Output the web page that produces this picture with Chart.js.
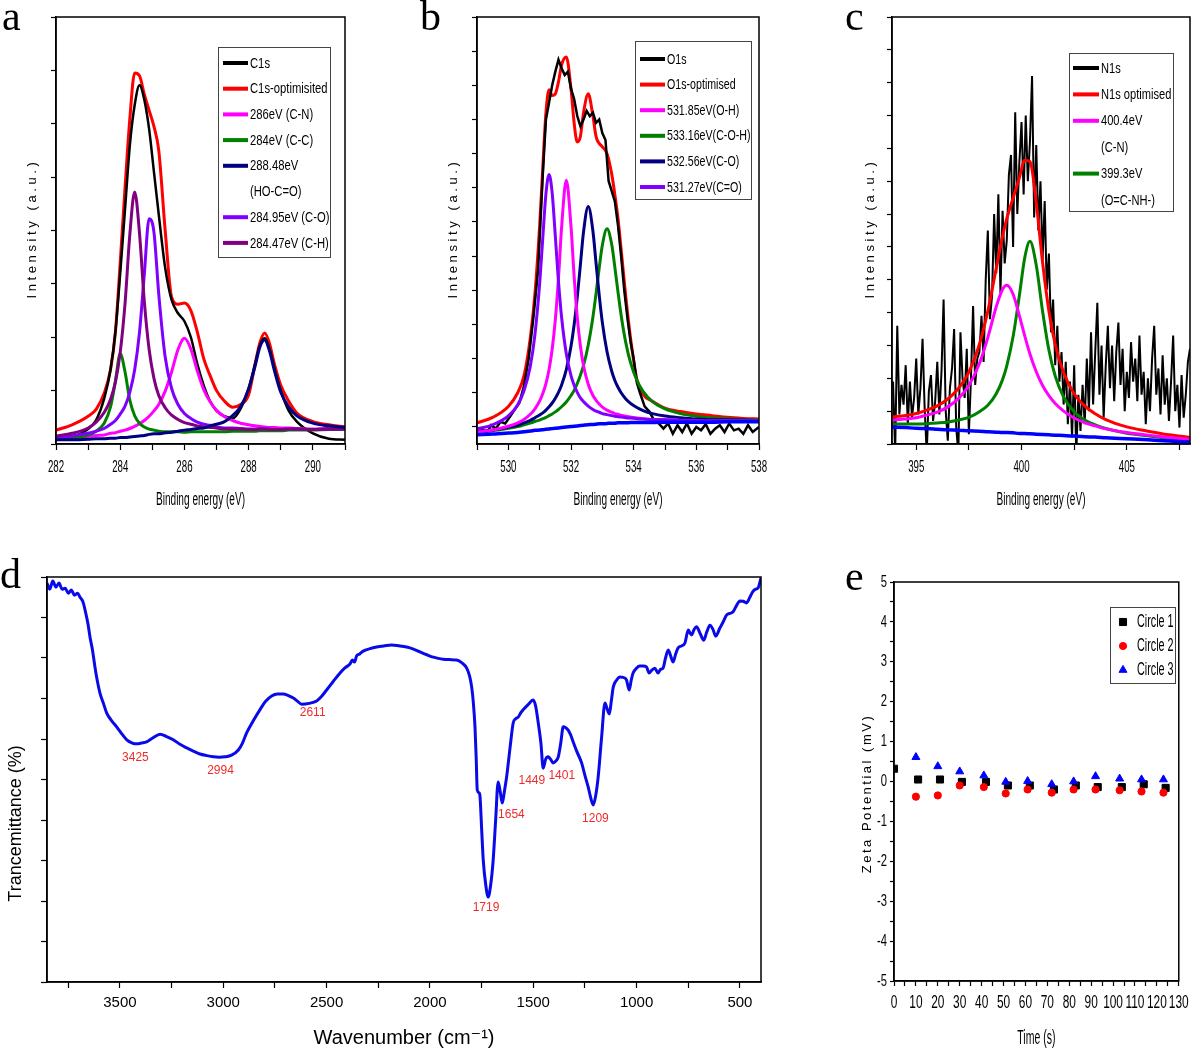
<!DOCTYPE html>
<html>
<head>
<meta charset="utf-8">
<title>XPS, FTIR and zeta potential</title>
<script src="https://cdn.jsdelivr.net/npm/chart.js@4.4.1/dist/chart.umd.min.js"></script>
<style>
  html, body { margin: 0; padding: 0; background: #fff; }
  #page { position: relative; width: 1200px; height: 1051px; overflow: hidden; background: #fff; }
  .pane { position: absolute; }
  .pane canvas { display: block; }
  .tag { position: absolute; font-family: 'Liberation Serif', 'DejaVu Serif', serif; font-size: 42px; line-height: 42px; color: #000; }
</style>
</head>
<body>
<div id="page">
  <div class="pane" style="left:0;top:0"><canvas id="chartA" width="360" height="520"></canvas></div>
  <div class="pane" style="left:420px;top:0"><canvas id="chartB" width="360" height="520"></canvas></div>
  <div class="pane" style="left:840px;top:0"><canvas id="chartC" width="360" height="520"></canvas></div>
  <div class="pane" style="left:0;top:540px"><canvas id="chartD" width="800" height="511"></canvas></div>
  <div class="pane" style="left:840px;top:540px"><canvas id="chartE" width="360" height="511"></canvas></div>
  <div class="tag" style="left:2px;top:-5px">a</div>
  <div class="tag" style="left:420px;top:-5px">b</div>
  <div class="tag" style="left:845px;top:-5px">c</div>
  <div class="tag" style="left:0;top:553px">d</div>
  <div class="tag" style="left:845px;top:555px">e</div>
</div>
<script>
// ================= DATA =================
// ---- a: C1s (binding energy, eV) ----
const aEnergy = [282,282.5,283,283.25,283.5,283.7,283.85,284,284.15,284.3,
  284.45,284.6,284.75,284.9,285.05,285.2,285.4,285.6,285.8,286,
  286.2,286.4,286.6,286.8,287,287.25,287.5,287.75,288,288.2,
  288.35,288.5,288.65,288.8,289,289.25,289.5,290,290.5,291];
const aC1s = [.12,.14,.28,.45,.85,1.4,2.1,3.2,4.4,5.6,
  6.35,6.72,6.45,5.9,5.1,4.3,3.3,2.7,2.45,2.3,
  2.0,1.5,1.1,.8,.62,.52,.48,.66,1.05,1.5,
  1.85,1.98,1.78,1.42,1.0,.62,.42,.2,.1,.08];
const aC1sFit = [.26,.36,.52,.65,.95,1.4,2.1,3.4,4.8,6.1,
  6.95,6.9,6.55,6.25,5.95,5.5,4.0,2.75,2.62,2.64,
  2.5,2.1,1.6,1.28,1.0,.8,.69,.74,.92,1.5,
  1.9,2.08,1.88,1.5,1.1,.8,.58,.42,.36,.32];
const aCN = [.10,.11,.14,.16,.17,.20,.21,.24,.26,.29,
  .33,.38,.44,.52,.62,.74,.99,1.35,1.77,1.98,
  1.78,1.37,1.02,.79,.63,.51,.44,.39,.36,.34,
  .33,.32,.31,.31,.30,.30,.29,.28,.29,.28];
const aCC = [.09,.11,.17,.24,.39,.70,1.18,1.69,1.35,.82,
  .53,.39,.32,.28,.26,.24,.23,.23,.23,.22,
  .23,.23,.23,.23,.23,.23,.24,.24,.24,.24,
  .25,.25,.25,.25,.25,.26,.26,.26,.27,.27];
const aHOCO = [.08,.08,.09,.10,.10,.11,.11,.12,.12,.13,
  .14,.15,.16,.18,.19,.19,.21,.22,.24,.26,
  .27,.29,.30,.34,.37,.42,.53,.70,1.03,1.46,
  1.82,1.95,1.74,1.38,.97,.69,.53,.39,.34,.31];
const aCO = [.12,.15,.20,.24,.29,.37,.44,.56,.71,.97,
  1.39,2.09,3.18,4.22,3.97,2.81,1.63,1.04,.74,.57,
  .48,.41,.37,.35,.32,.30,.30,.29,.28,.28,
  .28,.28,.28,.27,.27,.28,.28,.27,.28,.28];
const aCH = [.15,.20,.30,.41,.59,.84,1.16,1.72,2.63,3.93,
  4.72,3.95,2.67,1.77,1.23,.91,.68,.54,.46,.40,
  .37,.34,.32,.31,.30,.28,.28,.28,.27,.27,
  .28,.28,.27,.27,.27,.28,.28,.27,.28,.28];
const aXMajor = [282, 284, 286, 288, 290];
const aXMinor = [283, 285, 287, 289, 291];
const aYTicks = [0, 1, 2, 3, 4, 5, 6, 7, 8];

// ---- b: O1s ----
const bEnergy = [529,529.5,530,530.3,530.5,530.7,530.85,531,531.1,531.2,
  531.3,531.4,531.5,531.6,531.7,531.85,532,532.1,532.2,532.3,
  532.4,532.55,532.7,532.8,532.9,533,533.15,533.3,533.4,533.5,
  533.6,533.75,533.9,534.1,534.3,534.6,535,535.5,536,536.5,
  537,537.5,538];
const bO1sFit = [.12,.28,.6,1.0,1.5,2.6,3.9,5.9,7.6,9.2,
  9.87,9.7,9.75,10.1,10.6,10.83,9.9,8.9,8.34,8.5,
  9.2,9.75,9.1,8.5,8.3,8.2,8.0,7.4,6.8,6.1,
  5.2,3.8,2.6,1.4,.95,.75,.55,.45,.38,.33,
  .28,.25,.23];
const bOH = [-.15,-.09,.02,.12,.22,.37,.53,.76,.98,1.27,
  1.68,2.28,3.14,4.35,5.84,7.22,5.87,4.40,3.21,2.37,
  1.79,1.25,.92,.78,.67,.58,.49,.43,.39,.37,
  .34,.31,.29,.26,.24,.22,.21,.19,.18,.17,
  .18,.17,.17];
const bCOH = [-.15,-.11,-.04,.01,.06,.11,.16,.20,.24,.28,
  .33,.38,.44,.51,.59,.73,.92,1.07,1.27,1.51,
  1.80,2.40,3.22,3.91,4.65,5.32,5.80,5.34,4.67,3.95,
  3.27,2.46,1.88,1.37,1.04,.74,.53,.39,.31,.26,
  .24,.22,.21];
const bCO = [-.14,-.09,-.01,.05,.12,.19,.27,.35,.41,.49,
  .59,.70,.84,1.01,1.23,1.68,2.36,2.99,3.80,4.75,
  5.71,6.45,5.73,4.79,3.86,3.06,2.2,1.63,1.36,1.16,
  1.0,.82,.69,.57,.48,.39,.32,.27,.23,.21,
  .21,.20,.19];
const bCeqO = [-.06,.06,.32,.65,1.06,1.77,2.71,4.2,5.54,6.82,
  7.39,6.84,5.58,4.26,3.21,2.14,1.5,1.22,1.01,.85,
  .74,.61,.51,.46,.43,.39,.36,.33,.31,.30,
  .29,.27,.26,.24,.23,.21,.21,.19,.18,.17,
  .18,.17,.17];
const bBackground = [-.23,-.21,-.18,-.16,-.14,-.12,-.10,-.09,-.08,-.07,
  -.06,-.05,-.04,-.03,-.02,-.005,.01,.02,.03,.04,
  .05,.065,.07,.08,.09,.09,.10,.11,.11,.12,
  .12,.12,.13,.13,.13,.13,.14,.14,.14,.14,
  .15,.15,.15];
const bRawEnergy = [529,529.15,529.3,529.45,529.6,529.75,529.9,530.05,530.2,530.35,
  530.5,530.65,530.8,530.95,531.1,531.2,531.3,531.4,531.5,531.6,
  531.7,531.8,531.9,532,532.1,532.2,532.3,532.4,532.5,532.6,
  532.7,532.8,532.9,533,533.1,533.2,533.3,533.4,533.5,533.6,
  533.7,533.8,533.9,534,534.1,534.2,534.35,534.5,534.65,534.8,
  534.95,535.1,535.25,535.4,535.55,535.7,535.85,536,536.15,536.3,
  536.45,536.6,536.75,536.9,537.05,537.2,537.35,537.5,537.65,537.8,
  538];
const bO1s = [-.15,-.05,-.2,.05,-.05,.15,.1,.3,.5,.7,
  1.2,2.0,3.2,4.6,7.4,9.0,9.5,10.0,10.4,10.75,
  10.5,10.3,10.4,9.9,9.6,9.1,8.8,9.0,9.25,9.1,
  9.2,8.9,9.0,8.6,8.4,7.2,6.9,6.6,5.9,5.0,
  4.0,3.2,2.5,2.0,1.3,1.0,.6,.45,.2,.1,
  -.05,.1,-.2,.05,-.15,.1,-.2,0,-.1,.08,
  -.2,-.05,.05,-.15,.1,-.1,-.05,-.2,.05,-.15,
  0];
const bXMajor = [530, 532, 534, 536, 538];
const bXMinor = [529, 531, 533, 535, 537];
const bYTicks = [0,1,2,3,4,5,6,7,8,9,10,11,12];

// ---- c: N1s ----
const cEnergy = [393.85,394.5,395,395.5,396,396.5,397,397.5,398,398.4,
  398.8,399.1,399.3,399.6,399.9,400.15,400.4,400.7,401,401.3,
  401.6,402,402.5,403,403.5,404,405,406,407,408];
const cN1sFit = [.82,.87,.93,1.03,1.16,1.37,1.69,2.19,3.04,4.05,
  5.35,6.32,6.86,7.49,8.11,8.64,8.60,7.34,5.53,4.05,
  3.03,2.17,1.53,1.16,.92,.74,.52,.39,.28,.20];
const cCN = [.73,.76,.80,.88,.97,1.13,1.38,1.78,2.45,3.24,
  4.18,4.71,4.83,4.56,3.90,3.30,2.74,2.20,1.78,1.47,
  1.23,1.0,.79,.65,.55,.46,.35,.27,.20,.14];
const cOCNH = [.61,.61,.61,.62,.64,.67,.73,.81,.98,1.18,
  1.53,1.96,2.38,3.27,4.53,5.66,6.17,5.44,4.04,2.86,
  2.07,1.43,.98,.73,.58,.47,.33,.25,.17,.12];
const cBackground = [.52,.50,.48,.47,.45,.43,.42,.40,.39,.37,
  .36,.35,.35,.34,.32,.32,.31,.30,.29,.28,
  .27,.26,.24,.22,.21,.19,.16,.13,.09,.06];
const cRawEnergy = [393.9,394,394.1,394.2,394.3,394.4,394.5,394.6,394.7,394.8,
  394.9,395,395.1,395.2,395.3,395.4,395.5,395.6,395.7,395.8,
  395.9,396,396.1,396.2,396.3,396.4,396.5,396.6,396.7,396.8,
  396.9,397,397.1,397.2,397.3,397.4,397.5,397.6,397.7,397.8,
  397.9,398,398.1,398.2,398.3,398.4,398.5,398.6,398.7,398.8,
  398.9,399,399.1,399.2,399.3,399.4,399.5,399.6,399.7,399.8,
  399.9,400,400.1,400.2,400.3,400.4,400.5,400.6,400.7,400.8,
  400.9,401,401.1,401.2,401.3,401.4,401.5,401.6,401.7,401.8,
  401.9,402,402.1,402.2,402.3,402.4,402.5,402.6,402.7,402.8,
  402.9,403,403.1,403.2,403.3,403.4,403.5,403.6,403.7,403.8,
  403.9,404,404.1,404.2,404.3,404.4,404.5,404.6,404.7,404.8,
  404.9,405,405.1,405.2,405.3,405.4,405.5,405.6,405.7,405.8,
  405.9,406,406.1,406.2,406.3,406.4,406.5,406.6,406.7,406.8,
  406.9,407,407.1,407.2,407.3,407.4,407.5,407.6,407.7,407.8,
  407.9,408];
const cN1s = [1.9,-0.3,3.6,0.9,1.8,1.2,2.4,0.6,1.9,0.8,
  1.4,2.6,0.9,1.7,3.2,1.1,-0.3,1.6,2.1,0.7,
  1.3,2.5,0.9,2.2,4.4,1.0,0.1,1.7,2.3,3.5,
  0.5,-0.3,3.4,2.0,1.4,2.9,0.3,2.0,4.2,1.8,
  2.6,2.8,3.9,2.5,5.0,6.5,3.8,4.5,7.0,5.2,
  7.6,4.6,7.1,5.5,6.2,8.2,8.8,6.0,10.1,7.0,
  8.6,9.8,7.6,10.0,8.0,9.2,11.2,6.9,9.1,6.5,
  8.0,5.6,7.4,4.7,5.8,3.4,4.4,2.4,3.6,1.9,
  2.8,1.2,2.5,0.6,1.9,0.2,2.4,-0.3,1.5,0.4,
  1.8,0.6,2.6,1.0,3.4,1.2,2.8,4.3,1.5,3.0,
  0.8,2.4,3.6,1.7,3.0,1.3,2.8,3.7,1.8,2.9,
  1.0,2.2,1.4,3.1,1.9,2.6,1.3,3.3,1.5,2.2,
  0.6,2.0,1.0,2.6,3.6,1.5,2.3,0.9,2.7,1.2,
  2.0,0.7,1.9,3.3,1.0,1.8,0.5,2.1,0.8,1.5,
  2.5,2.9];
const cXMajor = [395, 400, 405];
const cXMinor = [397.5, 402.5, 407.5];
const cYTicks = [0,1,2,3,4,5,6,7,8,9,10,11,12,13];

// ---- d: FTIR ----
const dWavenumber = [3853,3840,3825,3810,3795,3780,3765,3750,3735,3720,
  3705,3693,3680,3669,3655,3645,3633,3621,3610,3597,
  3580,3564,3540,3516,3490,3467,3440,3419,3395,3371,
  3340,3306,3275,3242,3210,3177,3145,3113,3080,3048,
  3020,2992,2960,2927,2907,2887,2855,2823,2795,2766,
  2738,2710,2685,2661,2640,2621,2585,2548,2525,2500,
  2468,2435,2410,2387,2375,2365,2355,2340,2323,2290,
  2258,2220,2186,2150,2113,2080,2048,2015,1984,1960,
  1936,1905,1871,1845,1822,1808,1798,1790,1782,1776,
  1771,1762,1758,1750,1742,1730,1718,1706,1694,1682,
  1670,1660,1650,1640,1629,1612,1597,1585,1573,1560,
  1549,1525,1500,1488,1476,1463,1452,1440,1428,1416,
  1404,1392,1379,1367,1355,1343,1331,1319,1307,1290,
  1266,1250,1234,1222,1210,1198,1186,1170,1153,1143,
  1132,1122,1113,1097,1081,1065,1049,1036,1026,1017,
  1000,985,968,952,940,926,912,896,884,872,
  860,847,835,823,811,799,782,766,750,742,
  734,722,710,692,675,660,645,630,617,597,
  580,565,549,533,516,500,484,468,452,436,
  424,412,398];
const dTransmittance = [9.85,9.7,9.9,9.75,9.85,9.7,9.72,9.6,9.68,9.55,
  9.6,9.5,9.4,9.19,8.85,8.52,8.2,7.78,7.45,7.14,
  6.88,6.64,6.45,6.30,6.12,5.98,5.9,5.88,5.9,5.93,
  6.03,6.12,6.06,5.98,5.87,5.78,5.7,5.63,5.59,5.56,
  5.55,5.56,5.6,5.73,5.9,6.15,6.45,6.72,6.93,7.06,
  7.11,7.11,7.07,7.01,6.93,6.86,6.88,6.94,7.05,7.21,
  7.42,7.63,7.76,7.85,7.95,7.9,8.05,8.1,8.17,8.23,
  8.27,8.3,8.32,8.3,8.27,8.22,8.15,8.08,8.02,7.99,
  7.97,7.96,7.95,7.88,7.75,7.55,7.28,6.9,6.30,5.5,
  4.74,4.67,4.6,3.8,3.01,2.4,2.10,2.4,3.01,4.0,
  4.94,4.7,4.42,4.7,5.06,5.8,6.40,6.5,6.54,6.65,
  6.72,6.85,6.96,6.8,6.40,5.9,5.28,5.5,5.56,5.5,
  5.41,5.45,5.56,5.9,6.30,6.28,6.22,6.1,5.93,5.7,
  5.41,5.1,4.81,4.55,4.37,4.6,5.06,6.0,6.89,6.75,
  6.62,6.95,7.28,7.45,7.53,7.52,7.46,7.21,7.45,7.63,
  7.75,7.80,7.8,7.78,7.63,7.7,7.75,7.63,7.72,7.75,
  8.0,8.20,8.05,7.90,8.1,8.25,8.3,8.37,8.69,8.62,
  8.57,8.7,8.77,8.6,8.44,8.65,8.81,8.7,8.54,8.74,
  8.9,9.06,9.1,9.14,9.3,9.41,9.4,9.36,9.5,9.65,
  9.7,9.73,9.98];
const dPeakWavenumber = [3425, 2994, 2611, 1719, 1654, 1449, 1401, 1209];
const dPeakTransmittance = [5.88, 5.56, 6.86, 2.10, 4.42, 5.28, 5.41, 4.37];
const dXMajor = [3500, 3000, 2500, 2000, 1500, 1000, 500];
const dXMinor = [3750, 3250, 2750, 2250, 1750, 1250, 750];
const dYTicks = [0,1,2,3,4,5,6,7,8,9,10];

// ---- e: zeta potential ----
const eTime1 = [0, 11, 21, 31, 42, 52, 62, 73, 83, 93, 104, 114, 124];
const eCircle1 = [0.32, 0.05, 0.05, -0.01, -0.01, -0.10, -0.10, -0.20, -0.10, -0.14, -0.14, -0.07, -0.16];
const eTime23 = [10, 20, 30, 41, 51, 61, 72, 82, 92, 103, 113, 123];
const eCircle2 = [-0.38, -0.35, -0.10, -0.14, -0.30, -0.20, -0.28, -0.20, -0.20, -0.22, -0.25, -0.28];
const eCircle3 = [0.61, 0.38, 0.25, 0.15, -0.01, 0.01, -0.07, 0.0, 0.13, 0.07, 0.05, 0.05];
const eXMajor = [0,10,20,30,40,50,60,70,80,90,100,110,120,130];
const eXMinor = [5,15,25,35,45,55,65,75,85,95,105,115,125];
const eYMajor = [-5,-4,-3,-2,-1,0,1,2,3,4,5];
const eYMinor = [-4.5,-3.5,-2.5,-1.5,-0.5,0.5,1.5,2.5,3.5,4.5];

// ================= STYLE / HELPERS =================
const SANS = "'Liberation Sans', Arial, 'DejaVu Sans', sans-serif";
Chart.defaults.font.family = SANS;
Chart.defaults.color = '#000';

// draw text horizontally condensed (the figure uses a narrow face)
function withCompress(ctx, k, fn) {
  if (!k || k === 1) { fn(); return; }
  const proto = Object.getPrototypeOf(ctx);
  const orig = proto.fillText;
  ctx.fillText = function (text, x, y, maxWidth) {
    this.save();
    this.translate(x, y);
    this.scale(k, 1);
    if (maxWidth === undefined || maxWidth === null) orig.call(this, text, 0, 0);
    else orig.call(this, text, 0, 0, maxWidth / k);
    this.restore();
  };
  try { fn(); } finally { delete ctx.fillText; }
}

const BaseLinear = Chart.LinearScale || Chart.registry.getScale('linear');
class StyledLinearScale extends BaseLinear {
  drawTitle() {
    const t = this.options.title;
    const ctx = this.ctx;
    ctx.save();
    if (t.letterSpacing) ctx.letterSpacing = t.letterSpacing;
    if (t.shiftY) ctx.translate(0, t.shiftY);
    withCompress(ctx, t.compress, () => super.drawTitle());
    ctx.restore();
  }
  drawLabels(chartArea) {
    withCompress(this.ctx, this.options.ticks.compress, () => super.drawLabels(chartArea));
  }
}
StyledLinearScale.id = 'styledLinear';
StyledLinearScale.defaults = BaseLinear.defaults;

const framePlugin = {
  id: 'frame',
  afterDatasetsDraw(chart) {
    const { ctx, chartArea: a } = chart;
    ctx.save();
    ctx.strokeStyle = '#000';
    ctx.lineWidth = 1.5;
    ctx.strokeRect(a.left, a.top, a.right - a.left, a.bottom - a.top);
    ctx.restore();
  }
};

const boxLegendPlugin = {
  id: 'boxLegend',
  afterDraw(chart, args, o) {
    if (!o || !o.box) return;
    const ctx = chart.ctx;
    const b = o.box;
    const k = o.compress || 1;
    ctx.save();
    ctx.fillStyle = '#fff';
    ctx.fillRect(b[0], b[1], b[2], b[3]);
    ctx.strokeStyle = o.borderColor || '#444';
    ctx.lineWidth = 1;
    ctx.strokeRect(b[0] + 0.5, b[1] + 0.5, b[2], b[3]);
    ctx.font = o.font;
    ctx.textBaseline = 'middle';
    ctx.textAlign = 'left';
    let y = o.firstRow;
    chart.data.datasets.forEach(ds => {
      if (!ds.label) return;
      const lines = Array.isArray(ds.label) ? ds.label : [ds.label];
      if (o.marker) {
        ctx.fillStyle = ds.pointBackgroundColor;
        ctx.strokeStyle = ds.pointBorderColor;
        ctx.lineWidth = 1;
        Chart.helpers.drawPoint(ctx, { pointStyle: ds.pointStyle, radius: ds.pointRadius, rotation: 0, borderWidth: 1 }, o.markerX, y);
      } else {
        ctx.strokeStyle = ds.borderColor;
        ctx.lineWidth = o.sampleWidth;
        ctx.beginPath();
        ctx.moveTo(o.sampleX[0], y);
        ctx.lineTo(o.sampleX[1], y);
        ctx.stroke();
      }
      ctx.fillStyle = '#000';
      lines.forEach(t => {
        ctx.save();
        ctx.translate(o.textX, y + 0.5);
        ctx.scale(k, 1);
        ctx.fillText(t, 0, 0);
        ctx.restore();
        y += o.rowH;
      });
    });
    ctx.restore();
  }
};

Chart.register(StyledLinearScale, framePlugin, boxLegendPlugin);

const pts = (xs, ys) => xs.map((x, i) => ({ x: x, y: ys[i] }));

function lineDs(label, data, color, width, order, smooth) {
  return {
    label: label, data: data, borderColor: color, backgroundColor: color,
    borderWidth: width, pointRadius: 0, fill: false, order: order,
    cubicInterpolationMode: smooth ? 'monotone' : 'default', tension: 0
  };
}

function sortedTicks(major, minor) {
  return major.concat(minor).sort((p, q) => p - q).map(v => ({ value: v }));
}

function axisX(c) {
  return {
    type: 'styledLinear', position: 'bottom', min: c.min, max: c.max, reverse: !!c.reverse,
    afterBuildTicks: s => { s.ticks = sortedTicks(c.major, c.minor); },
    afterFit: s => { s.height = c.size; },
    grid: { drawOnChartArea: false, drawTicks: true, tickLength: c.tickLength, color: '#000', tickColor: '#000', tickWidth: 1.2 },
    border: { display: true, color: '#000', width: 1.5 },
    ticks: { autoSkip: false, maxRotation: 0, minRotation: 0, padding: c.pad, color: '#000', font: c.font,
      compress: c.compress, callback: v => (c.major.indexOf(v) >= 0 ? String(v) : '') },
    title: { display: true, text: c.title, color: '#000', font: c.titleFont, compress: c.titleCompress,
      padding: { top: 0, bottom: c.titlePad } }
  };
}

function axisY(c) {
  return {
    type: 'styledLinear', position: 'left', min: c.min, max: c.max,
    afterBuildTicks: s => { s.ticks = sortedTicks(c.major, c.minor || []); },
    afterFit: s => { s.width = c.size; },
    grid: { drawOnChartArea: false, drawTicks: true, tickLength: c.tickLength, color: '#000', tickColor: '#000', tickWidth: 1.2 },
    border: { display: true, color: '#000', width: 1.5 },
    ticks: { display: !!c.showLabels, autoSkip: false, padding: c.pad || 3, color: '#000', font: c.font,
      compress: c.compress, callback: v => (c.showLabels && c.major.indexOf(v) >= 0 ? String(v) : '') },
    title: { display: true, text: c.title, color: '#000', font: c.titleFont,
      padding: { top: c.titlePad, bottom: 0 }, letterSpacing: c.letterSpacing, shiftY: c.shiftY }
  };
}

function baseOptions(p) {
  return {
    responsive: false, animation: false, devicePixelRatio: 1, events: [],
    layout: { padding: p.padding },
    scales: { x: p.x, y: p.y },
    plugins: { legend: { display: false }, tooltip: { enabled: false }, boxLegend: p.legend || {} }
  };
}

const xpsTickFont = { family: SANS, size: 17 };
const xpsTitleFont = { family: SANS, size: 18 };
const intensityFont = { family: SANS, size: 13 };
const legendFont = "15px " + SANS;

// ================= a =================
new Chart(document.getElementById('chartA'), {
  type: 'line',
  data: { datasets: [
    lineDs('C1s', pts(aEnergy, aC1s), '#000000', 2.5, 6, true),
    lineDs('C1s-optimisited', pts(aEnergy, aC1sFit), '#ff0000', 3, 7, true),
    lineDs('286eV (C-N)', pts(aEnergy, aCN), '#ff00ff', 3, 5, true),
    lineDs('284eV (C-C)', pts(aEnergy, aCC), '#008000', 3, 4, true),
    lineDs(['288.48eV', '(HO-C=O)'], pts(aEnergy, aHOCO), '#000080', 3, 1, true),
    lineDs('284.95eV (C-O)', pts(aEnergy, aCO), '#8000ff', 3, 3, true),
    lineDs('284.47eV (C-H)', pts(aEnergy, aCH), '#800080', 3, 2, true)
  ]},
  options: baseOptions({
    padding: { top: 17, right: 15, bottom: 0, left: 0 },
    x: axisX({ min: 282, max: 291, major: aXMajor, minor: aXMinor, size: 76, tickLength: 6, pad: 6.8,
      font: xpsTickFont, compress: 0.57, title: 'Binding energy (eV)', titleFont: xpsTitleFont, titleCompress: 0.56, titlePad: 9.2 }),
    y: axisY({ min: 0, max: 8, major: aYTicks, size: 56, tickLength: 5, title: 'Intensity (a.u.)',
      titleFont: intensityFont, titlePad: 24.2, letterSpacing: '3.6px', shiftY: -2 }),
    legend: { box: [218, 47, 112, 210], firstRow: 63, rowH: 25.7, sampleX: [223, 248], textX: 250,
      sampleWidth: 4, font: legendFont, compress: 0.75, borderColor: '#444' }
  })
});

// ================= b =================
new Chart(document.getElementById('chartB'), {
  type: 'line',
  data: { datasets: [
    lineDs('O1s', pts(bRawEnergy, bO1s), '#000000', 2.5, 5, false),
    lineDs('O1s-optimised', pts(bEnergy, bO1sFit), '#ff0000', 3, 6, true),
    lineDs('531.85eV(O-H)', pts(bEnergy, bOH), '#ff00ff', 3, 2, true),
    lineDs('533.16eV(C-O-H)', pts(bEnergy, bCOH), '#008000', 3, 4, true),
    lineDs('532.56eV(C-O)', pts(bEnergy, bCO), '#000080', 3, 3, true),
    lineDs('531.27eV(C=O)', pts(bEnergy, bCeqO), '#8000ff', 3, 1, true),
    lineDs(undefined, pts(bEnergy, bBackground), '#0000ff', 3.5, 0, true)
  ]},
  options: baseOptions({
    padding: { top: 17, right: 21, bottom: 0, left: 0 },
    x: axisX({ min: 529, max: 538, major: bXMajor, minor: bXMinor, size: 76, tickLength: 6, pad: 6.8,
      font: xpsTickFont, compress: 0.57, title: 'Binding energy (eV)', titleFont: xpsTitleFont, titleCompress: 0.56, titlePad: 9.2 }),
    y: axisY({ min: -0.5, max: 12, major: bYTicks, size: 57, tickLength: 5, title: 'Intensity (a.u.)',
      titleFont: intensityFont, titlePad: 25.2, letterSpacing: '3.6px', shiftY: -2 }),
    legend: { box: [215, 41, 116, 158], firstRow: 59, rowH: 25.6, sampleX: [220, 245], textX: 247,
      sampleWidth: 4, font: legendFont, compress: 0.71, borderColor: '#444' }
  })
});

// ================= c =================
new Chart(document.getElementById('chartC'), {
  type: 'line',
  data: { datasets: [
    lineDs('N1s', pts(cRawEnergy, cN1s), '#000000', 2, 5, false),
    lineDs('N1s optimised', pts(cEnergy, cN1sFit), '#ff0000', 3, 4, true),
    lineDs(['400.4eV', '(C-N)'], pts(cEnergy, cCN), '#ff00ff', 3, 2, true),
    lineDs(['399.3eV', '(O=C-NH-)'], pts(cEnergy, cOCNH), '#008000', 3, 3, true),
    lineDs(undefined, pts(cEnergy, cBackground), '#0000ff', 3.5, 1, true)
  ]},
  options: baseOptions({
    padding: { top: 17, right: 10, bottom: 0, left: 0 },
    x: axisX({ min: 393.85, max: 408, major: cXMajor, minor: cXMinor, size: 76, tickLength: 6, pad: 6.8,
      font: xpsTickFont, compress: 0.57, title: 'Binding energy (eV)', titleFont: xpsTitleFont, titleCompress: 0.56, titlePad: 9.2 }),
    y: axisY({ min: 0, max: 13, major: cYTicks, size: 52, tickLength: 5, title: 'Intensity (a.u.)',
      titleFont: intensityFont, titlePad: 22.2, letterSpacing: '3.6px', shiftY: -2 }),
    legend: { box: [229, 53, 104, 158], firstRow: 68, rowH: 26.4, sampleX: [233, 259], textX: 261,
      sampleWidth: 4, font: legendFont, compress: 0.74, borderColor: '#444' }
  })
});

// ================= d =================
const dLabelOffsets = [[0, 14], [-4, 14], [9, 9], [-2, 11], [10, 12], [-12, 13], [8, 13], [2, 14]];
const peakLabelPlugin = {
  id: 'peakLabels',
  afterDatasetsDraw(chart) {
    const ctx = chart.ctx, xs = chart.scales.x, ys = chart.scales.y;
    ctx.save();
    ctx.font = "12px " + SANS;
    ctx.fillStyle = '#ee2b2b';
    ctx.textAlign = 'center';
    ctx.textBaseline = 'middle';
    dPeakWavenumber.forEach((w, i) => {
      const px = xs.getPixelForValue(w) + dLabelOffsets[i][0];
      const py = ys.getPixelForValue(dPeakTransmittance[i]) + dLabelOffsets[i][1];
      ctx.fillText(String(w), px, py);
    });
    ctx.restore();
  }
};
new Chart(document.getElementById('chartD'), {
  type: 'line',
  data: { datasets: [
    lineDs(undefined, pts(dWavenumber, dTransmittance), '#0a0ae8', 3, 0, true)
  ]},
  options: baseOptions({
    padding: { top: 37, right: 39, bottom: 0, left: 0 },
    x: axisX({ min: 398, max: 3853, reverse: true, major: dXMajor, minor: dXMinor, size: 69, tickLength: 6, pad: 6,
      font: { family: SANS, size: 15 }, title: 'Wavenumber (cm\u207B\u00B9)', titleFont: { family: SANS, size: 20 }, titlePad: 1 }),
    y: axisY({ min: 0, max: 10, major: dYTicks, size: 47, tickLength: 6, title: 'Trancemittance (%)',
      titleFont: { family: SANS, size: 18 }, titlePad: 5.2, shiftY: 44 })
  }),
  plugins: [peakLabelPlugin]
});

// ================= e =================
function scatterDs(label, data, color, style, radius, order) {
  return { label: label, data: data, pointStyle: style, pointRadius: radius,
    pointBackgroundColor: color, pointBorderColor: color, backgroundColor: color, borderColor: color,
    pointBorderWidth: 1, showLine: false, order: order };
}
new Chart(document.getElementById('chartE'), {
  type: 'scatter',
  data: { datasets: [
    scatterDs('Circle 1', pts(eTime1, eCircle1), '#000000', 'rect', 5, 3),
    scatterDs('Circle 2', pts(eTime23, eCircle2), '#ff0000', 'circle', 3.6, 2),
    scatterDs('Circle 3', pts(eTime23, eCircle3), '#0000ff', 'triangle', 4.6, 1)
  ]},
  options: baseOptions({
    padding: { top: 42, right: 11, bottom: 0, left: 0 },
    x: axisX({ min: 0, max: 130, major: eXMajor, minor: eXMinor, size: 70, tickLength: 5, pad: 6.2,
      font: { family: SANS, size: 18 }, compress: 0.66, title: 'Time (s)', titleFont: { family: SANS, size: 21 },
      titleCompress: 0.5, titlePad: 0 }),
    y: axisY({ min: -5, max: 5, major: eYMajor, minor: eYMinor, size: 54, tickLength: 4, pad: 3, showLabels: true,
      font: { family: SANS, size: 17 }, compress: 0.66, title: 'Zeta Potential (mV)', titleFont: { family: SANS, size: 13 },
      titlePad: 19.2, letterSpacing: '2.5px', shiftY: 12 }),
    legend: { box: [270, 67, 65, 76], firstRow: 82, rowH: 24, marker: true, markerX: 283, textX: 297,
      font: "18px " + SANS, compress: 0.6, borderColor: '#444' }
  })
});
</script>
</body>
</html>
